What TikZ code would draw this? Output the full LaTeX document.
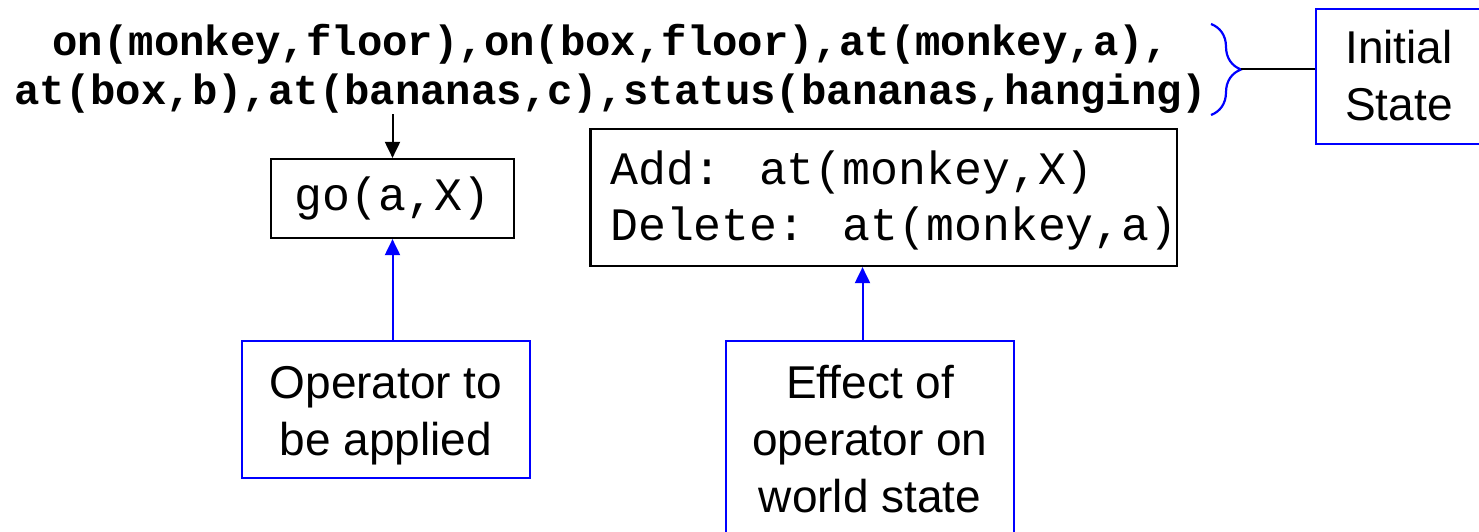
\documentclass[tikz,border=0pt]{standalone}
\usepackage{fontspec}
\setmainfont{Liberation Sans}
\newfontfamily\courfont{Liberation Mono}
\usetikzlibrary{arrows.meta,decorations.pathreplacing}

\definecolor{pptblue}{RGB}{0,0,255}

\tikzset{
  blkbox/.style={draw=black, line width=2.2pt, inner sep=0pt},
  bluebox/.style={draw=pptblue, line width=2.2pt, inner sep=0pt},
  codetxt/.style={font=\courfont\fontsize{46.5}{56}\selectfont, inner sep=0pt},
  factstxt/.style={font=\courfont\bfseries\fontsize{42.3}{49.3}\selectfont, inner sep=0pt, align=center},
  labeltxt/.style={font=\fontsize{46}{57}\selectfont, inner sep=0pt, align=center},
  blkarrow/.style={draw=black, line width=2pt, -{Triangle[length=16pt,width=15pt]}},
  bluearrow/.style={draw=pptblue, line width=2pt, -{Triangle[length=16pt,width=15pt]}},
  plainline/.style={draw=black, line width=2pt}
}

\begin{document}
\begin{tikzpicture}[x=1pt, y=-1pt]
  \clip (0,0) rectangle (1479,532);
  \fill[white] (0,0) rectangle (1479,532);

  % initial facts (base anchor = baseline of the last line)
  \node[factstxt, anchor=base] (state) at (611,105)
    {on(monkey,floor),on(box,floor),at(monkey,a),\\at(box,b),at(bananas,c),status(bananas,hanging)};

  % brace grouping the facts, joined to its label
  \draw[pptblue, line width=2.2pt, decorate, decoration={brace, amplitude=30pt, aspect=0.5}]
    (1211,24) -- (1211,115);
  \coordinate (btip) at (1241,69);
  \node[bluebox, minimum width=168, minimum height=135] (init) at (1400,76.5) {};
  \node[labeltxt, anchor=base] (inittxt) at (1399,121) {Initial\\State};
  \draw[plainline] (btip) -- (btip -| init.west);

  % operator box
  \node[blkbox, codetxt, minimum width=243, minimum height=79] (go) at (392.5,198.5) {go(a,X)};
  \draw[blkarrow] (go.north |- state.south) -- (go.north);

  % add / delete lists
  \node[blkbox, minimum width=586.5, minimum height=137] (add) at (883.75,197.5) {};
  \node[codetxt, align=left, anchor=base west] (addtxt) at (610,240)
    {Add: at(monkey,X)\\Delete: at(monkey,a)};

  % explanatory labels
  \node[bluebox, minimum width=288, minimum height=137] (op) at (386,409.5) {};
  \node[labeltxt, anchor=base] (optxt) at (386,455) {Operator to\\be applied};

  \node[bluebox, minimum width=288, minimum height=199] (eff) at (870,440.5) {};
  \node[labeltxt, anchor=base] (efftxt) at (870,512) {Effect of\\operator on\\world state};

  \draw[bluearrow] (op.north -| go.south) -- (go.south);
  \draw[bluearrow] ([xshift=-7.5pt]eff.north) -- ([xshift=-7.5pt]eff.north |- add.south);
\end{tikzpicture}
\end{document}
